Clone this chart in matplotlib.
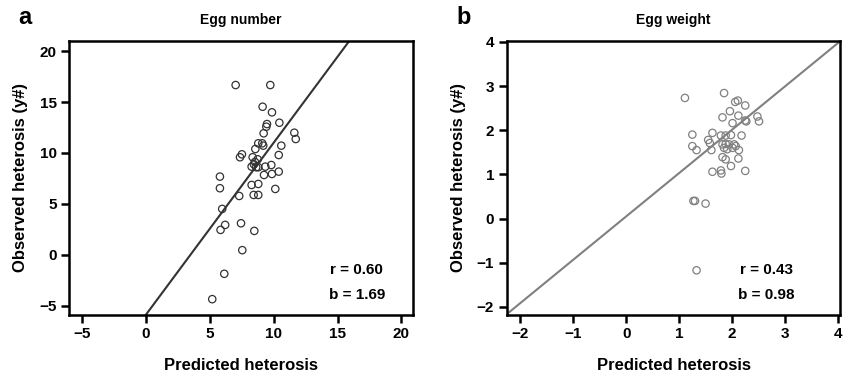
import matplotlib
matplotlib.use("Agg")
import matplotlib.pyplot as plt
import numpy as np

plt.rcParams['font.family'] = ['Liberation Sans', 'DejaVu Sans']
plt.rcParams['font.weight'] = 'bold'

# panel a: egg number (predicted, observed)
num_pred = [7.03, 9.74, 9.14, 9.87, 9.48, 9.43, 10.45, 9.22, 11.62, 11.73,
            8.80, 9.11, 9.19, 10.60, 8.57, 7.52, 7.37, 8.36, 10.40, 8.75,
            8.54, 8.46, 8.28, 8.64, 8.80, 9.35, 9.82, 9.25, 9.87, 10.40,
            5.80, 8.28, 8.80, 5.80, 10.13, 7.31, 8.44, 8.80, 5.98, 6.21,
            5.85, 7.45, 8.49, 7.55, 6.14, 5.20]
num_obs = [16.67, 16.67, 14.54, 13.99, 12.84, 12.58, 12.97, 11.93, 11.99, 11.37,
           10.95, 10.95, 10.72, 10.72, 10.39, 9.87, 9.58, 9.58, 9.80, 9.38,
           9.12, 8.89, 8.66, 8.60, 8.60, 8.66, 8.82, 7.84, 7.94, 8.17,
           7.68, 6.86, 6.96, 6.54, 6.47, 5.78, 5.88, 5.88, 4.51, 2.94,
           2.45, 3.10, 2.35, 0.46, -1.86, -4.35]

# panel b: egg weight (predicted, observed)
wt_pred = [1.11, 1.85, 2.06, 2.11, 2.25, 1.96, 1.82, 2.12, 2.25, 2.27,
           2.01, 2.48, 2.51, 1.25, 1.63, 1.55, 1.58, 1.79, 1.88, 1.98,
           2.18, 1.25, 1.33, 1.61, 1.82, 1.88, 1.94, 2.04, 1.85, 1.91,
           2.01, 2.07, 2.13, 1.82, 1.88, 2.12, 1.98, 1.63, 1.79, 1.80,
           2.25, 1.27, 1.30, 1.50, 1.33]
wt_obs = [2.73, 2.84, 2.64, 2.67, 2.56, 2.43, 2.29, 2.33, 2.22, 2.20,
          2.16, 2.31, 2.20, 1.90, 1.94, 1.78, 1.71, 1.88, 1.88, 1.89,
          1.88, 1.64, 1.55, 1.55, 1.68, 1.69, 1.68, 1.68, 1.60, 1.57,
          1.60, 1.64, 1.55, 1.39, 1.34, 1.36, 1.19, 1.06, 1.09, 1.02,
          1.08, 0.40, 0.40, 0.34, -1.17]

panels = [
    dict(x=num_pred, y=num_obs, title='Egg number', letter='a', r='0.60', b='1.69',
         slope=1.69, icpt=-5.9, xlim=(-6.0, 20.9), ylim=(-5.9, 21.0),
         ticks=[-5, 0, 5, 10, 15, 20], col='#333333',
         rect=[0.0819, 0.169, 0.408, 0.723], rx=0.837),
    dict(x=wt_pred, y=wt_obs, title='Egg weight', letter='b', r='0.43', b='0.98',
         slope=0.98, icpt=0.05, xlim=(-2.26, 4.05), ylim=(-2.18, 4.02),
         ticks=[-2, -1, 0, 1, 2, 3, 4], col='#808080',
         rect=[0.601, 0.169, 0.396, 0.723], rx=0.778),
]

fig = plt.figure(figsize=(8.43, 3.79), dpi=100)

for p in panels:
    ax = fig.add_axes(p['rect'])
    ax.scatter(p['x'], p['y'], s=28, facecolors='none', edgecolors=p['col'], linewidths=0.9, zorder=3)
    xx = np.array(p['xlim'])
    ax.plot(xx, p['slope'] * xx + p['icpt'], color=p['col'], lw=1.5, zorder=2)
    ax.set_xlim(p['xlim'])
    ax.set_ylim(p['ylim'])
    ax.set_xticks(p['ticks'])
    ax.set_yticks(p['ticks'])
    ax.set_xticklabels([str(t).replace('-', '\u2212') for t in p['ticks']])
    ax.set_yticklabels([str(t).replace('-', '\u2212') for t in p['ticks']])
    for s in ax.spines.values():
        s.set_linewidth(1.8)
    ax.tick_params(direction='out', length=6, width=1.8, labelsize=11, pad=3)
    ax.set_xlabel('Predicted heterosis', fontsize=12, fontweight='bold', labelpad=12)
    ax.set_ylabel('Observed heterosis (y#)', fontsize=12, fontweight='bold', labelpad=8)
    ax.set_title(p['title'], fontsize=10, fontweight='bold', pad=12)
    ax.text(p['rx'], 0.164, 'r = ' + p['r'], transform=ax.transAxes, ha='center', va='center',
            fontsize=11, fontweight='bold')
    ax.text(p['rx'], 0.073, 'b = ' + p['b'], transform=ax.transAxes, ha='center', va='center',
            fontsize=11, fontweight='bold')
    fig.text(p['rect'][0] - 0.06, 0.955, p['letter'], fontsize=17, fontweight='bold',
             ha='left', va='center')

fig.savefig('out.png', dpi=100)
